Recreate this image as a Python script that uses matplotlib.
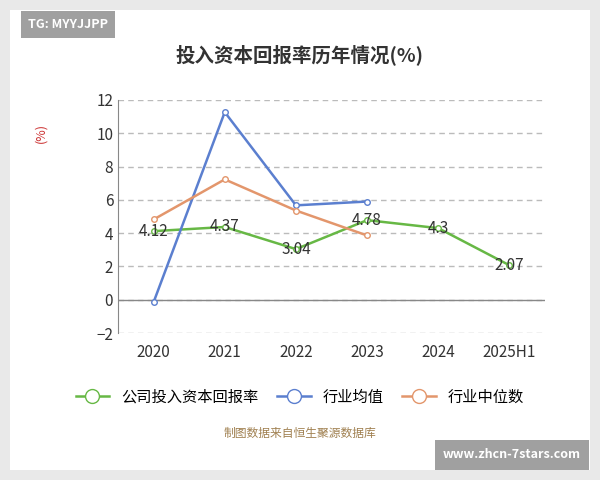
import matplotlib.pyplot as plt
from matplotlib.patches import Rectangle

plt.rcParams["font.family"] = ["Noto Sans CJK SC", "DejaVu Sans"]

years = ["2020", "2021", "2022", "2023", "2024", "2025H1"]
company = [4.12, 4.37, 3.04, 4.78, 4.3, 2.07]
industry_avg = [-0.15, 11.27, 5.67, 5.9]
industry_median = [4.82, 7.23, 5.36, 3.86]

green = "#67b845"
blue = "#5b7fcf"
orange = "#e3966c"

fig = plt.figure(figsize=(6, 4.8), dpi=100)
fig.patch.set_facecolor("#e9e9e9")
fig.patches.append(Rectangle((10 / 600, 10 / 480), 580 / 600, 460 / 480,
                             transform=fig.transFigure, facecolor="white",
                             edgecolor="none", zorder=-10))

ax = fig.add_axes([118 / 600, 1 - 333 / 480, 427 / 600, 233 / 480])
ax.set_zorder(5)
ax.set_facecolor("white")
x = list(range(len(years)))
ax.plot(x, company, color=green, lw=1.8, marker="o", ms=4,
        mfc="white", mec=green, label="公司投入资本回报率", zorder=3)
ax.plot(x[:4], industry_avg, color=blue, lw=1.8, marker="o", ms=4,
        mfc="white", mec=blue, label="行业均值", zorder=3)
ax.plot(x[:4], industry_median, color=orange, lw=1.8, marker="o", ms=4,
        mfc="white", mec=orange, label="行业中位数", zorder=3)
for xi, v in zip(x, company):
    ax.text(xi, v, f"{v:g}", ha="center", va="center", fontsize=11, color="#333333", zorder=4)

ax.set_xlim(-0.5, 5.5)
ax.set_ylim(-2, 12)
ax.set_yticks(range(-2, 13, 2))
ax.set_xticks(x)
ax.set_xticklabels(years)
ax.tick_params(axis="both", labelsize=11, colors="#333333", length=0)
ax.tick_params(axis="x", pad=8)
ax.grid(axis="y", ls=(0, (4, 3)), color="#bbbbbb", lw=1)
ax.axhline(0, color="#888888", lw=1, zorder=2)
for s in ["top", "right", "bottom"]:
    ax.spines[s].set_visible(False)
ax.spines["left"].set_color("#888888")
ax.text(-0.18, 0.86, "(%)", transform=ax.transAxes, rotation=90, color="#cc3333",
        fontsize=9, ha="center", va="center")

fig.text(0.5, 1 - 55 / 480, "投入资本回报率历年情况(%)", ha="center", va="center",
         fontsize=14, fontweight="bold", color="#333333")
leg = fig.legend(loc="center", bbox_to_anchor=(0.5, 1 - 397 / 480), ncol=3, frameon=False,
                 fontsize=11, handlelength=2.2, columnspacing=1.2, markerscale=2.5)
leg.set_zorder(6)
fig.text(0.5, 1 - 433 / 480, "制图数据来自恒生聚源数据库", ha="center", va="center",
         fontsize=8.5, color="#a08050")
fig.text(28 / 600, 1 - 24 / 480, "TG: MYYJJPP", ha="left", va="center", fontsize=9,
         color="white", fontweight="bold",
         bbox=dict(facecolor="#a0a0a0", edgecolor="none", pad=5))
fig.text(512 / 600, 1 - 455 / 480, "www.zhcn-7stars.com", ha="center", va="center",
         fontsize=9, color="white", fontweight="bold",
         bbox=dict(facecolor="#a0a0a0", edgecolor="none", pad=6))

fig.savefig("out.png", dpi=100, facecolor=fig.get_facecolor())
